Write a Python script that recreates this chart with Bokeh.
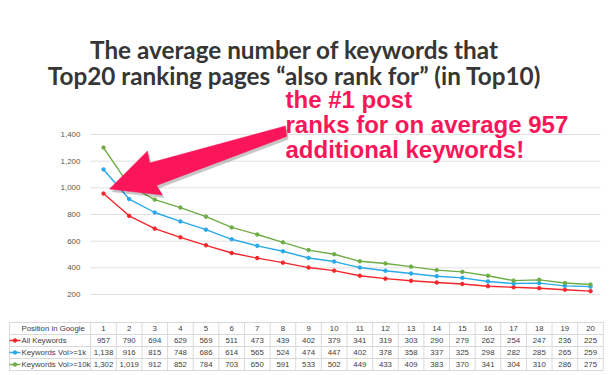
from bokeh.plotting import figure
from bokeh.models import Range1d, FixedTicker, NumeralTickFormatter, LinearAxis, ColumnDataSource
from bokeh.core.properties import value
from bokeh.embed import file_html
from bokeh.resources import INLINE

# ---------------- data ----------------
positions = list(range(1, 21))
all_kw = [957, 790, 694, 629, 569, 511, 473, 439, 402, 379, 341, 319, 303, 290, 279, 262, 254, 247, 236, 225]
kw_1k = [1138, 916, 815, 748, 686, 614, 565, 524, 474, 447, 402, 378, 358, 337, 325, 298, 282, 285, 265, 259]
kw_10k = [1302, 1019, 912, 852, 784, 703, 650, 591, 533, 502, 449, 433, 409, 383, 370, 341, 304, 310, 286, 275]
series_names = ["All Keywords", "Keywords Vol>=1k", "Keywords Vol>=10k"]
series_values = [all_kw, kw_1k, kw_10k]
series_colors = ["#f5262b", "#29a9ea", "#6fac45"]
y_ticks = [200, 400, 600, 800, 1000, 1200, 1400]
title_lines = ["The average number of keywords that",
               "Top20 ranking pages \u201calso rank for\u201d (in Top10)"]
note_lines = ["the #1 post", "ranks for on average 957", "additional keywords!"]
table_header = "Position in Google"

PINK = "#fa1659"
GRID = "#e0e0e0"
TXT = "#404040"
TLINE = "#d9d9d9"

# ---------------- layout (canvas pixels <-> data space) ----------------
W, H = 611, 375
U = (590 - 103) / 19.0       # px per position step
V = 160 / 1200.0             # px per keyword unit
BL = 8.5                     # baseline correction for alphabetic text


def cx(px):  # canvas px -> data x
    return 1 + (px - 103) / U


def cy(py):  # canvas py -> data y
    return 1400 + (134 - py) / V


p = figure(width=W, height=H, output_backend="svg", toolbar_location=None,
           x_range=Range1d(cx(0), cx(W)), y_range=Range1d(cy(H), cy(0)),
           x_axis_location=None, y_axis_location=None,
           min_border_left=0, min_border_right=0, min_border_top=0, min_border_bottom=0)
p.outline_line_color = None
p.background_fill_color = "white"
p.border_fill_color = "white"
p.grid.visible = False

# y axis drawn inside the canvas at the left edge of the plot area
ax = LinearAxis(fixed_location=cx(90), ticker=FixedTicker(ticks=y_ticks),
                formatter=NumeralTickFormatter(format="0,0"))
ax.axis_line_color = None
ax.major_tick_line_color = None
ax.minor_tick_line_color = None
ax.major_tick_out = 0
ax.major_tick_in = 0
ax.major_label_standoff = 10
ax.major_label_text_font = "Liberation Sans"
ax.major_label_text_font_size = "8px"
ax.major_label_text_color = "#595959"
p.add_layout(ax, "left")

# horizontal grid lines
p.segment(x0=[cx(90)] * len(y_ticks), y0=y_ticks, x1=[cx(600)] * len(y_ticks), y1=y_ticks,
          line_color=GRID, line_width=1)

# series
for vals, col in zip(series_values, series_colors):
    p.line(positions, vals, line_color=col, line_width=1.4)
    p.scatter(positions, vals, size=3.5, fill_color=col, line_color=col)

# arrow annotation (outline in canvas pixels)
arrow_px = [(109, 188.5), (147, 150.5), (149, 162.5), (285, 125.5),
            (286, 136), (156, 185), (162, 194.5)]
sh = [(x + 2, y + 3) for x, y in arrow_px]
p.patch([cx(x) for x, y in sh], [cy(y) for x, y in sh],
        fill_color="black", fill_alpha=0.22, line_color=None)
p.patch([cx(x) for x, y in arrow_px], [cy(y) for x, y in arrow_px],
        fill_color=PINK, line_color=PINK, line_width=0.5)

# title
p.text(x=[cx(294)] * 2, y=[cy(57 - BL), cy(83.5 - BL)], text=title_lines,
       text_align="center", text_baseline="alphabetic",
       text_font=value("Lato"), text_font_style="bold",
       text_font_size="24.3px", text_color="#363636")

# pink note
p.text(x=[cx(285)] * 3, y=[cy(107.5 + 25 * i - BL) for i in range(3)], text=note_lines,
       text_align="left", text_baseline="alphabetic",
       text_font=value("Liberation Sans"), text_font_style="bold",
       text_font_size="24px", text_color=PINK)

# ---------------- data table ----------------
row_top = 322
row_h = 12
n_rows = 4
left = cx(9)
right = positions[-1] + 0.5
hy = [cy(row_top + i * row_h) for i in range(n_rows + 1)]
p.segment(x0=[left] * len(hy), y0=hy, x1=[right] * len(hy), y1=hy,
          line_color=TLINE, line_width=1)
vx = [left] + [k - 0.5 for k in positions] + [right]
p.segment(x0=vx, y0=[hy[0]] * len(vx), x1=vx, y1=[hy[-1]] * len(vx),
          line_color=TLINE, line_width=1)

centers = [cy(row_top + (i + 0.5) * row_h) for i in range(n_rows)]
FONT = value("Liberation Sans")
FS = "7.8px"

p.text(x=[cx(21)], y=[centers[0]], text=[table_header], text_align="left",
       text_baseline="middle", text_font=FONT, text_font_size=FS, text_color=TXT)
p.text(x=positions, y=[centers[0]] * len(positions), text=[str(k) for k in positions],
       text_align="center", text_baseline="middle", text_font=FONT,
       text_font_size=FS, text_color=TXT)

for i, (name, vals, col) in enumerate(zip(series_names, series_values, series_colors)):
    yc = centers[i + 1]
    p.segment(x0=[cx(9)], y0=[yc], x1=[cx(20)], y1=[yc], line_color=col, line_width=1.3)
    p.scatter([cx(14.5)], [yc], size=3.5, fill_color=col, line_color=col)
    p.text(x=[cx(21)], y=[yc], text=[name], text_align="left", text_baseline="middle",
           text_font=FONT, text_font_size=FS, text_color=TXT)
    src = ColumnDataSource(dict(x=positions, y=[yc] * len(positions),
                                s=[f"{v:,}" for v in vals]))
    p.text(x="x", y="y", text="s", source=src, text_align="center",
           text_baseline="middle", text_font=FONT, text_font_size=FS,
           text_color=TXT)

open("out.html", "w").write(file_html(p, INLINE))
